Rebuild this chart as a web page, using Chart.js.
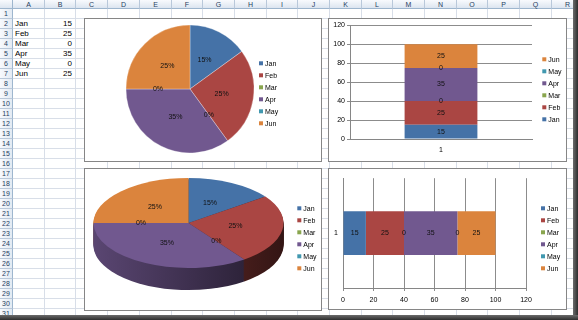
<!DOCTYPE html>
<html>
<head>
<meta charset="utf-8">
<script src="https://cdn.jsdelivr.net/npm/chart.js@4.4.0/dist/chart.umd.min.js"></script>
<style>
html,body{margin:0;padding:0;width:578px;height:320px;overflow:hidden;background:#fff;font-family:"Liberation Sans",Arial,sans-serif;}
#sheet{position:absolute;left:0;top:0;width:578px;height:320px;}
.hc,.rh,.corner{position:absolute;box-sizing:border-box;background:linear-gradient(#f8fafd,#dce5f0);color:#27415f;font-size:7px;text-align:center;}
.hc{top:0;height:9px;line-height:9px;border-right:1px solid #b9c8da;border-bottom:1px solid #9eb6ce;}
.rh{left:0;width:13px;height:10px;line-height:10px;border-bottom:1px solid #b9c8da;border-right:1px solid #9eb6ce;background:linear-gradient(90deg,#f8fafd,#e3eaf3);}
.corner{left:0;top:0;width:13px;height:9px;border-right:1px solid #9eb6ce;border-bottom:1px solid #9eb6ce;}
.vl{position:absolute;width:1px;background:#d8dee8;}
.hl{position:absolute;height:1px;background:#d8dee8;}
.cell{position:absolute;font-size:8px;line-height:10px;height:10px;color:#000;white-space:nowrap;}
.box{position:absolute;background:#fff;border:1px solid #868686;}
.box canvas{position:absolute;left:0;top:0;}
#frameR{position:absolute;left:573px;top:0;width:5px;height:320px;background:linear-gradient(90deg,#6b6b6b,#2e2e2e);}
#frameB{position:absolute;left:0;top:315px;width:578px;height:5px;background:linear-gradient(#6b6b6b,#2e2e2e);}
</style>
</head>
<body>
<div id="sheet"></div>
<div class="box" style="left:84px;top:18px;width:236px;height:142px;"><canvas id="c1" width="236" height="142"></canvas></div>
<div class="box" style="left:328px;top:18px;width:237px;height:142px;"><canvas id="c2" width="237" height="142"></canvas></div>
<div class="box" style="left:84px;top:168px;width:236px;height:141px;"><canvas id="c3" width="236" height="141"></canvas></div>
<div class="box" style="left:328px;top:168px;width:237px;height:140px;"><canvas id="c4" width="237" height="140"></canvas></div>
<div id="frameR"></div>
<div id="frameB"></div>
<script>
// data (sheet A2:B7)
var months = ['Jan', 'Feb', 'Mar', 'Apr', 'May', 'Jun'];
var values = [15, 25, 0, 35, 0, 25];
var colors = ['#4572A7', '#AA4643', '#89A54E', '#71588F', '#4198AF', '#DB843D'];
var categories = ['1'];
var axisMax = 120;
var axisStep = 20;

// ---- spreadsheet background
var sheet = document.getElementById("sheet");
var letters = ['A','B','C','D','E','F','G','H','I','J','K','L','M','N','O','P','Q','R'];
var colX = [13,45,76,108,140,172,203,235,267,298,330,362,393,425,457,488,520,552,584];
var rowY = [];
for (var i = 0; i <= 32; i++) rowY.push(9 + 10 * i);

function addDiv(cls, css, txt){
    var d = document.createElement("div");
    d.className = cls;
    d.style.cssText = css;
    if (txt !== undefined) d.textContent = txt;
    sheet.appendChild(d);
    return d;
}
for (var j = 0; j < letters.length; j++) {
    addDiv("vl", "left:" + (colX[j+1]-1) + "px;top:9px;height:311px;");
}
for (var i = 0; i < 31; i++) {
    addDiv("hl", "left:13px;top:" + (rowY[i+1]-1) + "px;width:565px;");
}
addDiv("corner", "");
for (var j = 0; j < letters.length; j++) {
    addDiv("hc", "left:" + colX[j] + "px;width:" + (colX[j+1]-colX[j]) + "px;", letters[j]);
}
for (var i = 0; i < 31; i++) {
    addDiv("rh", "top:" + rowY[i] + "px;", String(i+1));
}
for (var k = 0; k < months.length; k++) {
    addDiv("cell", "left:" + (colX[0]+2) + "px;top:" + rowY[k+1] + "px;", months[k]);
    addDiv("cell", "left:" + colX[1] + "px;top:" + rowY[k+1] + "px;width:" + (colX[2]-colX[1]-4) + "px;text-align:right;", String(values[k]));
}

// ---- chart helpers
Chart.defaults.font.family = '"Liberation Sans", Arial, sans-serif';
Chart.defaults.font.size = 7;
Chart.defaults.color = '#000';

var total = values.reduce(function(a, b){ return a + b; }, 0);

// excel style legend: little squares + names
var xlLegend = {
    id: 'xlLegend',
    afterDraw: function(chart, args, o){
        var ctx = chart.ctx;
        var items = [];
        if (chart.config.type === 'pie') {
            chart.data.labels.forEach(function(l, i){ items.push({t: l, c: chart.data.datasets[0].backgroundColor[i]}); });
        } else {
            chart.data.datasets.forEach(function(ds){ items.push({t: ds.label, c: ds.backgroundColor}); });
        }
        if (o.reverse) items.reverse();
        ctx.save();
        ctx.font = '7px "Liberation Sans", Arial, sans-serif';
        ctx.textBaseline = 'middle';
        items.forEach(function(it, i){
            var y = o.y + i * o.gap;
            ctx.fillStyle = it.c;
            ctx.fillRect(o.x, y - 2, 4, 4);
            ctx.fillStyle = '#000';
            ctx.fillText(it.t, o.x + 6, y + 0.5);
        });
        ctx.restore();
    }
};

var pieLabels = {
    id: 'pieLabels',
    afterDatasetsDraw: function(chart){
        var ctx = chart.ctx;
        var meta = chart.getDatasetMeta(0);
        ctx.save();
        ctx.font = '7px "Liberation Sans", Arial, sans-serif';
        ctx.textAlign = 'center';
        ctx.textBaseline = 'middle';
        ctx.fillStyle = '#111';
        meta.data.forEach(function(arc, i){
            var p = arc.tooltipPosition();
            ctx.fillText(Math.round(values[i] / total * 100) + '%', p.x, p.y);
        });
        ctx.restore();
    }
};

var barLabels = {
    id: 'barLabels',
    afterDatasetsDraw: function(chart){
        var ctx = chart.ctx;
        ctx.save();
        ctx.font = '7px "Liberation Sans", Arial, sans-serif';
        ctx.textAlign = 'center';
        ctx.textBaseline = 'middle';
        ctx.fillStyle = '#111';
        chart.data.datasets.forEach(function(ds, i){
            chart.getDatasetMeta(i).data.forEach(function(bar, j){
                var p = bar.getCenterPoint();
                ctx.fillText(String(ds.data[j]), p.x, p.y);
            });
        });
        ctx.restore();
    }
};

function shade(hex, f){
    var n = parseInt(hex.slice(1), 16);
    var r = Math.round(((n >> 16) & 255) * f), g = Math.round(((n >> 8) & 255) * f), b = Math.round((n & 255) * f);
    return 'rgb(' + r + ',' + g + ',' + b + ')';
}

// squash the pie into an ellipse and stack darker copies under it for the side wall
var tilt = {
    id: 'tilt',
    beforeDatasetsDraw: function(chart, args, o){
        var ctx = chart.ctx;
        var meta = chart.getDatasetMeta(0);
        var a0 = meta.data[0];
        var cx = a0.x, cy = a0.y, r = a0.outerRadius;
        ctx.save();
        ctx.translate(cx, o.cy);
        ctx.scale(1, o.k);
        ctx.translate(-cx, -cy);
        for (var d = o.depth; d > 0; d--) {
            meta.data.forEach(function(arc, i){
                if (arc.endAngle - arc.startAngle <= 0) return;
                var g = ctx.createLinearGradient(cx - r, 0, cx + r, 0);
                var col = chart.data.datasets[0].backgroundColor[i];
                g.addColorStop(0, shade(col, 0.8));
                g.addColorStop(0.5, shade(col, 0.55));
                g.addColorStop(1, shade(col, 0.3));
                ctx.beginPath();
                ctx.moveTo(arc.x, arc.y + d / o.k);
                ctx.arc(arc.x, arc.y + d / o.k, arc.outerRadius, arc.startAngle, arc.endAngle);
                ctx.closePath();
                ctx.fillStyle = g;
                ctx.fill();
            });
        }
    },
    afterDatasetsDraw: function(chart, args, o){
        var ctx = chart.ctx;
        ctx.restore();
        var meta = chart.getDatasetMeta(0);
        ctx.save();
        ctx.font = '7px "Liberation Sans", Arial, sans-serif';
        ctx.textAlign = 'center';
        ctx.textBaseline = 'middle';
        ctx.fillStyle = '#111';
        meta.data.forEach(function(arc, i){
            var mid = (arc.startAngle + arc.endAngle) / 2;
            var hr = arc.outerRadius / 2;
            ctx.fillText(Math.round(values[i] / total * 100) + '%', arc.x + Math.cos(mid) * hr, o.cy + Math.sin(mid) * hr * o.k);
        });
        ctx.restore();
    }
};

var base = {responsive: false, animation: false, devicePixelRatio: 1, events: []};

// 1 - flat pie
new Chart(document.getElementById("c1"), {
    type: 'pie',
    data: {labels: months, datasets: [{data: values, backgroundColor: colors, borderColor: 'rgba(255,255,255,0.6)', borderWidth: 0.5, radius: 64}]},
    options: Object.assign({}, base, {
        layout: {padding: {left: 0, right: 26, top: 0, bottom: 2}},
        plugins: {legend: {display: false}, tooltip: {enabled: false}, xlLegend: {x: 174, y: 44.3, gap: 12}}
    }),
    plugins: [xlLegend, pieLabels]
});

// 2 - stacked column
new Chart(document.getElementById("c2"), {
    type: 'bar',
    data: {labels: categories, datasets: months.map(function(m, i){
        return {label: m, data: [values[i]], backgroundColor: colors[i], barPercentage: 0.4, categoryPercentage: 1};
    })},
    options: Object.assign({}, base, {
        layout: {padding: {left: 0, right: 34, top: 6, bottom: 0}},
        scales: {
            x: {stacked: true, grid: {display: false, drawTicks: false}, border: {color: '#868686'},
                ticks: {padding: 7}, afterFit: function(s){ s.height = 22; }},
            y: {stacked: true, min: 0, max: axisMax, ticks: {stepSize: axisStep, padding: 2},
                grid: {color: '#8c8c8c', tickLength: 3}, border: {color: '#868686'},
                afterFit: function(s){ s.width = 21; }}
        },
        plugins: {legend: {display: false}, tooltip: {enabled: false}, xlLegend: {x: 213.3, y: 40.3, gap: 12, reverse: true}}
    }),
    plugins: [xlLegend, barLabels]
});

// 3 - 3d pie
new Chart(document.getElementById("c3"), {
    type: 'pie',
    data: {labels: months, datasets: [{data: values, backgroundColor: colors, borderWidth: 0, radius: 95, clip: false}]},
    options: Object.assign({}, base, {
        layout: {padding: {left: 0, right: 29, top: 0, bottom: 0}},
        plugins: {legend: {display: false}, tooltip: {enabled: false},
            tilt: {cy: 54, k: 0.474, depth: 22},
            xlLegend: {x: 212.3, y: 39.3, gap: 12}}
    }),
    plugins: [tilt, xlLegend]
});

// 4 - stacked bar
new Chart(document.getElementById("c4"), {
    type: 'bar',
    data: {labels: categories, datasets: months.map(function(m, i){
        return {label: m, data: [values[i]], backgroundColor: colors[i], barPercentage: 0.4, categoryPercentage: 1};
    })},
    options: Object.assign({}, base, {
        indexAxis: 'y',
        layout: {padding: {left: 0, right: 40, top: 4, bottom: 0}},
        scales: {
            x: {stacked: true, min: 0, max: axisMax, ticks: {stepSize: axisStep, padding: 5},
                grid: {color: '#8c8c8c', tickLength: 3}, border: {color: '#868686'},
                afterFit: function(s){ s.height = 21; }},
            y: {stacked: true, grid: {display: false, drawTicks: false}, border: {color: '#868686'},
                ticks: {padding: 5}, afterFit: function(s){ s.width = 14; }}
        },
        plugins: {legend: {display: false}, tooltip: {enabled: false}, xlLegend: {x: 212, y: 39.3, gap: 12}}
    }),
    plugins: [xlLegend, barLabels]
});
</script>
</body>
</html>
